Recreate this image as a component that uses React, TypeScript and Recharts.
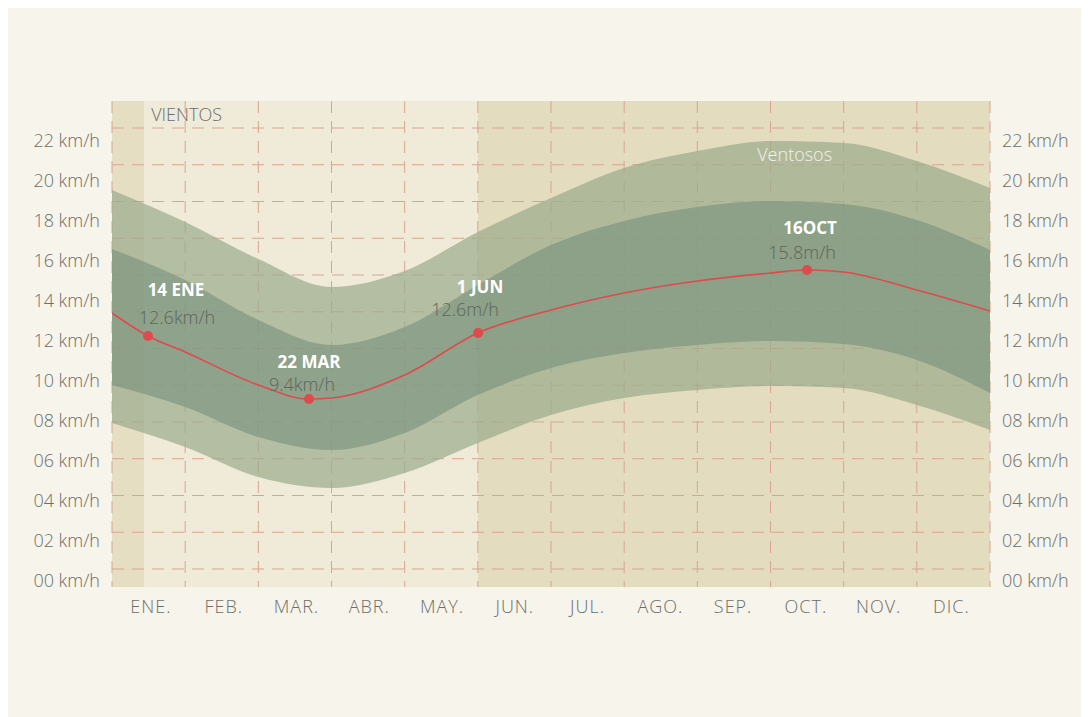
import React from 'react';
import {
  ComposedChart,
  Area,
  Line,
  Scatter,
  XAxis,
  YAxis,
  CartesianGrid,
  ReferenceArea,
  ReferenceDot,
} from 'recharts';

// ---------- data ----------
const months = ['ENE.', 'FEB.', 'MAR.', 'ABR.', 'MAY.', 'JUN.', 'JUL.', 'AGO.', 'SEP.', 'OCT.', 'NOV.', 'DIC.'];
const monthIdx = [0, 1, 2, 3, 4, 5, 6, 7, 8, 9, 10, 11];

const yTicks = [0, 2, 4, 6, 8, 10, 12, 14, 16, 18, 20, 22];
const yTickLabels = ['00 km/h', '02 km/h', '04 km/h', '06 km/h', '08 km/h', '10 km/h', '12 km/h', '14 km/h', '16 km/h', '18 km/h', '20 km/h', '22 km/h'];

// time in grid-column units (0..12 = the 13 vertical grid lines)
const bandX = [0, 1, 2, 3, 4, 5, 6, 7, 8, 9, 10, 11, 12];
const outerHigh = [19.55, 17.95, 16.1, 14.7, 15.5, 17.45, 19.15, 20.65, 21.5, 22.0, 21.9, 21.0, 19.65];
const innerHigh = [16.6, 15.05, 13.05, 11.8, 12.7, 14.8, 16.8, 18.0, 18.7, 19.0, 18.85, 18.05, 16.55];
const innerLow = [9.8, 8.7, 7.2, 6.55, 7.4, 9.3, 10.65, 11.4, 11.8, 12.0, 11.85, 11.05, 9.4];
const outerLow = [7.9, 6.7, 5.2, 4.65, 5.4, 6.9, 8.3, 9.15, 9.55, 9.75, 9.65, 8.8, 7.55];

const medianX = [0, 0.49, 1, 2, 2.69, 3, 4, 5, 6, 7, 8, 9, 9.5, 10, 11, 12];
const medianY = [13.4, 12.25, 11.45, 9.8, 9.1, 9.15, 10.3, 12.4, 13.55, 14.4, 15.0, 15.4, 15.55, 15.45, 14.55, 13.5];

// annotated dates, in month units (0 = mid ENE)
const annotMonth = [-0.04, 2.172, 4.495, 9.016];
const annotY = [12.25, 9.1, 12.4, 15.55];
const annotTitles = ['14 ENE', '22 MAR', '1 JUN', '16OCT'];
const annotValues = ['12.6km/h', '9.4km/h', '12.6m/h', '15.8m/h'];

const regionStarts = [0, 0.44, 5];
const regionEnds = [0.44, 5, 12];

const gridXTicks = [0, 1, 2, 3, 4, 5, 6, 7, 8, 9, 10, 11, 12];
const gridYTicks = [0, 1, 2, 3, 4, 5, 6, 7, 8, 9, 10, 11, 12];

// ---------- styling ----------
const FONT = '"Open Sans", "Noto Sans", sans-serif';
const TEXT = '#6c6f69';
const RED = '#df4a4d';
const regionFills = ['#e6dec3', '#f0ead9', '#e4dcbe'];
const titleOffsets = [[28, -46], [0, -37], [2, -46], [3, -42]];
const valueOffsets = [[29, -18], [-7, -14], [-13, -23], [-5, -17]];

const bandData = bandX.map((x, i) => ({
  x,
  outer: [outerLow[i], outerHigh[i]],
  inner: [innerLow[i], innerHigh[i]],
}));
const medianData = medianX.map((x, i) => ({ x, v: medianY[i] }));
const annotData = annotMonth.map((m, i) => ({ m, y: annotY[i], i }));

const AnnotShape = (props: any) => {
  const { cx, cy, payload } = props;
  const i = payload.i;
  const [tx, ty] = titleOffsets[i];
  const [vx, vy] = valueOffsets[i];
  return (
    <g>
      <circle cx={cx} cy={cy} r={5} fill={RED} />
      <text x={cx + tx} y={cy + ty} dy="0.36em" textAnchor="middle" fill="#ffffff" fontFamily={FONT} fontWeight={700} fontSize={17}>
        {annotTitles[i]}
      </text>
      <text x={cx + vx} y={cy + vy} dy="0.36em" textAnchor="middle" fill="#5d6759" fontFamily={FONT} fontWeight={300} fontSize={18}>
        {annotValues[i]}
      </text>
    </g>
  );
};

const makeYTick = (anchor: 'start' | 'end') => (props: any) => {
  const { x, y, payload } = props;
  return (
    <text x={x} y={y} dy="0.36em" textAnchor={anchor} fill={TEXT} fontSize={18} fontFamily={FONT} fontWeight={300}>
      {yTickLabels[yTicks.indexOf(payload.value)]}
    </text>
  );
};

const MonthTick = (props: any) => {
  const { x, y, payload } = props;
  const v = payload ? payload.value : undefined;
  const label = months[Math.round(Number(v))] ?? String(v);
  return (
    <text x={x} y={y} dy="0.71em" textAnchor="middle" fill={TEXT} fontSize={18} fontFamily={FONT} fontWeight={300} letterSpacing={1}>
      {label}
    </text>
  );
};

export default function App() {
  return (
    <div style={{ width: 1081, height: 709, background: '#f7f4ec' }}>
      <ComposedChart width={1081} height={709} margin={{ top: 93, right: 0, bottom: 100, left: 0 }}>
        <XAxis xAxisId="t" type="number" dataKey="x" domain={[0, 12]} ticks={gridXTicks} hide height={0} allowDataOverflow />
        <XAxis
          xAxisId="m"
          type="number"
          dataKey="m"
          domain={[-0.535, 11.53]}
          ticks={monthIdx}
          axisLine={false}
          tickLine={false}
          tickSize={0}
          tickMargin={13}
          height={30}
          interval={0}
          allowDataOverflow
          tick={MonthTick}
        />
        <YAxis
          yAxisId="k"
          orientation="left"
          width={104}
          type="number"
          domain={[-0.3, 24]}
          ticks={yTicks}
          axisLine={false}
          tickLine={false}
          tickSize={0}
          tickMargin={12}
          interval={0}
          allowDataOverflow
          tick={makeYTick('end')}
        />
        <YAxis
          yAxisId="kr"
          orientation="right"
          width={99}
          type="number"
          domain={[-0.3, 24]}
          ticks={yTicks}
          axisLine={false}
          tickLine={false}
          tickSize={0}
          tickMargin={12}
          interval={0}
          allowDataOverflow
          tick={makeYTick('start')}
        />
        <YAxis yAxisId="g" type="number" orientation="right" hide width={0} domain={[-0.49, 12.735]} ticks={gridYTicks} allowDataOverflow />

        {regionStarts.map((s, i) => (
          <ReferenceArea
            key={'r' + i}
            xAxisId="t"
            yAxisId="k"
            x1={s}
            x2={regionEnds[i]}
            y1={-0.3}
            y2={24}
            fill={regionFills[i]}
            fillOpacity={1}
            stroke="none"
            strokeWidth={0}
            zIndex={-200}
            label={i === 1 ? { value: 'VIENTOS', position: 'insideTopLeft', offset: 7, fill: TEXT, fontSize: 18, fontFamily: FONT, fontWeight: 300 } : undefined}
          />
        ))}

        <CartesianGrid xAxisId="t" yAxisId="g" syncWithTicks stroke="#d8a48f" strokeDasharray="12 8" strokeWidth={1} />

        <Area
          xAxisId="t"
          yAxisId="k"
          data={bandData}
          dataKey="outer"
          type="monotone"
          fill="#9aab8c"
          fillOpacity={0.7}
          stroke="none"
          isAnimationActive={false}
        />
        <Area
          xAxisId="t"
          yAxisId="k"
          data={bandData}
          dataKey="inner"
          type="monotone"
          fill="#7f9580"
          fillOpacity={0.7}
          stroke="none"
          isAnimationActive={false}
        />
        <Line
          xAxisId="t"
          yAxisId="k"
          data={medianData}
          dataKey="v"
          type="monotone"
          stroke={RED}
          strokeWidth={1.6}
          dot={false}
          isAnimationActive={false}
        />
        <Scatter
          xAxisId="m"
          yAxisId="k"
          data={annotData}
          dataKey="y"
          shape={AnnotShape}
          isAnimationActive={false}
        />
        <ReferenceDot
          xAxisId="t"
          yAxisId="k"
          x={9.33}
          y={21.3}
          r={0}
          fill="none"
          stroke="none"
          label={{ value: 'Ventosos', position: 'center', fill: '#f3f1e8', fontSize: 18, fontFamily: FONT, fontWeight: 300 }}
        />
      </ComposedChart>
    </div>
  );
}
